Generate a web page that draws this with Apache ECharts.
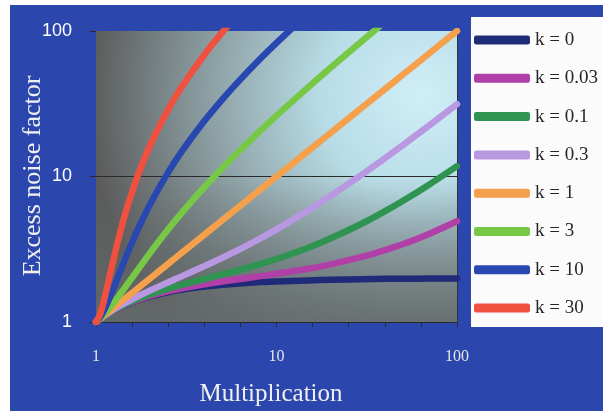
<!DOCTYPE html>
<html>
<head>
<meta charset="utf-8">
<script src="https://cdn.jsdelivr.net/npm/echarts@6/dist/echarts.min.js"></script>
<style>
html,body{margin:0;padding:0;background:#fff;}
#chart{width:603px;height:411px;}
</style>
</head>
<body>
<div id="chart"></div>
<script>
// Multiplication values (x)
const multiplication = [1, 1.05, 1.1, 1.15, 1.2, 1.3, 1.4, 1.5, 1.7, 2, 2.5, 3, 4, 5, 6, 8, 10, 15, 20, 30, 40, 50, 70, 100];

// Excess noise factor read per curve (null = beyond top of chart)
const k0    = [1, 1.05, 1.09, 1.13, 1.17, 1.23, 1.29, 1.33, 1.41, 1.5, 1.6, 1.67, 1.75, 1.8, 1.83, 1.88, 1.9, 1.93, 1.95, 1.97, 1.98, 1.98, 1.99, 1.99];
const k003  = [1, 1.048, 1.091, 1.131, 1.168, 1.233, 1.289, 1.338, 1.42, 1.515, 1.627, 1.707, 1.818, 1.896, 1.958, 2.059, 2.143, 2.325, 2.49, 2.81, 3.12, 3.42, 4.03, 4.93];
const k01   = [1, 1.048, 1.092, 1.132, 1.17, 1.238, 1.297, 1.35, 1.441, 1.55, 1.69, 1.8, 1.975, 2.12, 2.25, 2.49, 2.71, 3.24, 3.76, 4.77, 5.78, 6.78, 8.79, 11.79];
const k03   = [1, 1.048, 1.094, 1.136, 1.177, 1.252, 1.32, 1.383, 1.498, 1.65, 1.87, 2.067, 2.425, 2.76, 3.083, 3.71, 4.33, 5.85, 7.37, 10.38, 13.38, 16.39, 22.39, 31.39];
const k1    = [1, 1.05, 1.1, 1.15, 1.2, 1.3, 1.4, 1.5, 1.7, 2, 2.5, 3, 4, 5, 6, 8, 10, 15, 20, 30, 40, 50, 70, 100];
const k3    = [1, 1.055, 1.118, 1.189, 1.267, 1.438, 1.629, 1.833, 2.276, 3, 4.3, 5.667, 8.5, 11.4, 14.33, 20.25, 26.2, 41.13, 56.1, 86.07, 116.05, null, null, null];
const k10   = [1, 1.071, 1.182, 1.326, 1.5, 1.923, 2.429, 3, 4.294, 6.5, 10.6, 15, 24.25, 33.8, 43.5, 63.13, 82.9, 132.6, null, null, null, null, null, null];
const k30   = [1, 1.119, 1.364, 1.717, 2.167, 3.308, 4.714, 6.333, 10.06, 16.5, 28.6, 41.67, 69.25, 97.8, 126.83, null, null, null, null, null, null, null, null, null];

const seriesNames = ['k = 0', 'k = 0.03', 'k = 0.1', 'k = 0.3', 'k = 1', 'k = 3', 'k = 10', 'k = 30'];
const seriesValues = [k0, k003, k01, k03, k1, k3, k10, k30];
const seriesColors = ['#1f2a78', '#b040a8', '#2f9452', '#b898e0', '#f4a04c', '#78c848', '#2848b0', '#f05040'];

const xTickLabels = ['1', '10', '100'];
const yTickLabels = ['1', '10', '100'];
const xTitle = 'Multiplication';
const yTitle = 'Excess noise factor';

const chart = echarts.init(document.getElementById('chart'), null, {renderer: 'canvas'});

const G = {left: 96, top: 31, width: 361, height: 291};

const series = seriesNames.map((name, i) => ({
  name: name,
  type: 'line',
  xAxisIndex: 0,
  yAxisIndex: 0,
  symbol: 'none',
  smooth: 0.2,
  clip: true,
  z: 3 + i,
  lineStyle: {width: 6.5, color: seriesColors[i], cap: 'round', join: 'round'},
  itemStyle: {color: seriesColors[i]},
  data: multiplication.map((m, j) => seriesValues[i][j] == null ? null : [m, seriesValues[i][j]]).filter(d => d !== null)
}));

series[0].markLine = {
  silent: true,
  symbol: 'none',
  z: 1,
  label: {show: false},
  lineStyle: {color: '#2a2a2a', width: 1, type: 'solid'},
  data: [{yAxis: 10}]
};

const serif = '"Liberation Serif", "DejaVu Serif", serif';

const option = {
  backgroundColor: '#ffffff',
  animation: false,
  graphic: [
    {type: 'rect', z: -30, shape: {x: 10, y: 5, width: 593, height: 406}, style: {fill: '#2b47ae'}},
    {type: 'rect', z: -30, shape: {x: 471, y: 17, width: 132, height: 310}, style: {fill: '#fbfbfb'}},
    {type: 'rect', z: -20, shape: {x: G.left, y: G.top, width: G.width, height: G.height},
      style: {fill: {type: 'radial', x: 0.9, y: 0.22, r: 1.15, colorStops: [
        {offset: 0, color: '#d0eef8'},
        {offset: 0.3, color: '#b8dce6'},
        {offset: 0.62, color: '#8ea2a6'},
        {offset: 1, color: '#5a5a5a'}
      ]}}},
    {type: 'rect', z: -19, shape: {x: G.left, y: G.top, width: G.width, height: G.height},
      style: {fill: {type: 'linear', x: 0, y: 0, x2: 0, y2: 1, colorStops: [
        {offset: 0, color: 'rgba(100,106,106,0)'},
        {offset: 0.5, color: 'rgba(100,106,106,0)'},
        {offset: 1, color: 'rgba(100,106,106,0.85)'}
      ]}}},
    {type: 'text', z: 10, x: 33, y: 176, rotation: Math.PI / 2,
      style: {text: yTitle, align: 'center', verticalAlign: 'middle', textAlign: 'center', textVerticalAlign: 'middle',
        fill: '#f0f0f0', font: '26px ' + serif}},
    {type: 'text', z: 10, x: 271, y: 394,
      style: {text: xTitle, align: 'center', verticalAlign: 'middle', textAlign: 'center', textVerticalAlign: 'middle',
        fill: '#f0f0f0', font: '25px ' + serif}}
  ],
  grid: {left: G.left, top: G.top, width: G.width, height: G.height, containLabel: false},
  legend: {
    orient: 'vertical',
    left: 474,
    top: 30,
    padding: 0,
    icon: 'roundRect',
    itemWidth: 56,
    itemHeight: 9,
    itemGap: 18.3,
    data: seriesNames,
    textStyle: {fontFamily: serif, fontSize: 19, color: '#262626', lineHeight: 20}
  },
  xAxis: [
    {
      type: 'log', logBase: 10, min: 1, max: 100, position: 'bottom',
      axisLine: {show: true, lineStyle: {color: '#2a2a2a', width: 1}},
      axisTick: {show: false},
      splitLine: {show: false},
      axisLabel: {
        margin: 27,
        fontFamily: serif, fontSize: 16, color: '#e6e6e6',
        formatter: v => { const s = String(Math.round(v)); return xTickLabels.includes(s) ? s : ''; }
      }
    },
    {
      type: 'value', min: 0, max: 10, interval: 1, position: 'bottom',
      axisLine: {show: false},
      axisTick: {show: true, length: 5, inside: false, lineStyle: {color: '#2a2a2a', width: 1}},
      axisLabel: {show: false},
      splitLine: {show: false}
    }
  ],
  yAxis: [
    {
      type: 'log', logBase: 10, min: 1, max: 100, position: 'left',
      axisLine: {show: false},
      axisTick: {show: true, length: 6, lineStyle: {color: '#2a2a2a', width: 1}},
      splitLine: {show: false},
      axisLabel: {
        margin: 24,
        fontFamily: '"Liberation Sans", Arial, sans-serif', fontSize: 18, color: '#ffffff',
        formatter: v => { const s = String(Math.round(v)); return yTickLabels.includes(s) ? s : ''; }
      }
    },
    {
      type: 'log', logBase: 10, min: 1, max: 100, position: 'right',
      axisLine: {show: true, lineStyle: {color: '#333', width: 1}},
      axisTick: {show: false},
      axisLabel: {show: false},
      splitLine: {show: false}
    }
  ],
  series: series
};

chart.setOption(option);
</script>
</body>
</html>
